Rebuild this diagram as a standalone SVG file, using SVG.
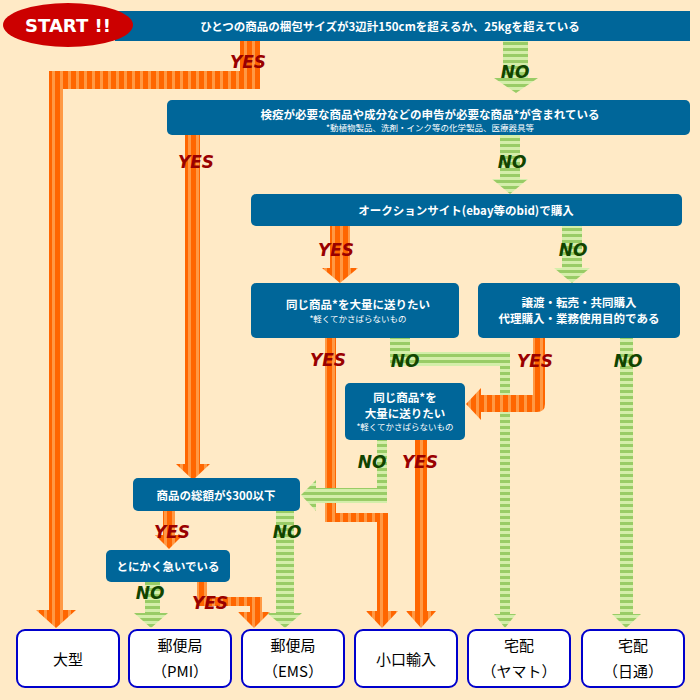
<svg xmlns="http://www.w3.org/2000/svg" width="700" height="700" viewBox="0 0 700 700">
<defs>
<pattern id="po" width="8" height="8" patternUnits="userSpaceOnUse"><rect width="8" height="8" fill="#ff6600"/><rect x="4" width="3" height="8" fill="#ff9944"/></pattern>
<pattern id="pg" width="6" height="6" patternUnits="userSpaceOnUse"><rect width="6" height="6" fill="#99cc66"/><rect y="3" width="6" height="3" fill="#d4eeaa"/></pattern>
<style>
.o{fill:url(#po)}
.g{fill:url(#pg)}
.b{fill:#006699}
.t{fill:#fff;font-family:"Noto Sans CJK JP",sans-serif;font-weight:bold;font-size:11.5px;text-anchor:middle}
.s{fill:#fff;font-family:"Noto Sans CJK JP",sans-serif;font-size:8.5px;text-anchor:middle}
.y{fill:#990000;font-family:"DejaVu Sans",sans-serif;font-weight:bold;font-style:italic;font-size:17px;text-anchor:middle}
.n{fill:#114400;font-family:"DejaVu Sans",sans-serif;font-weight:bold;font-style:italic;font-size:17px;text-anchor:middle}
.e{fill:#fff;stroke:#0000cc;stroke-width:2}
.et{fill:#000;font-family:"Noto Sans CJK JP",sans-serif;font-size:15px;text-anchor:middle}
</style>
</defs>
<rect width="700" height="700" fill="#ffeac6"/>
<g id="connectors">
<path class="o" d="M240 41h20v48H63v521h-14V71h191z"/>
<polygon class="o" points="36,610 76,610 56,628"/>
<text class="y" x="248" y="68">YES</text>
<rect class="g" x="503" y="41" width="25" height="38"/>
<polygon class="g" points="494,78 538,78 516,93"/>
<text class="n" x="515" y="78">NO</text>
<rect class="o" x="185" y="135" width="15" height="330"/>
<polygon class="o" points="176,464 210,464 193,480"/>
<text class="y" x="196" y="168">YES</text>
<rect class="g" x="500" y="135" width="20" height="45"/>
<polygon class="g" points="492,179 528,179 510,194"/>
<text class="n" x="512" y="168">NO</text>
<rect class="o" x="330" y="226" width="20" height="43"/>
<polygon class="o" points="322,268 358,268 340,283"/>
<text class="y" x="336" y="256">YES</text>
<rect class="g" x="562" y="226" width="20" height="43"/>
<polygon class="g" points="554,268 590,268 572,283"/>
<text class="n" x="573" y="256">NO</text>
<path class="o" d="M325 338h11v175h52v98h-11v-89h-52z"/>
<polygon class="o" points="366,611 398,611 382,628"/>
<text class="y" x="328" y="366">YES</text>
<path class="g" d="M390 338h20v14h100v262h-10V366h-110z"/>
<polygon class="g" points="494,614 516,614 505,628"/>
<text class="n" x="405" y="367">NO</text>
<path class="o" d="M533 338h12v66q0 8-8 8H480v-17h53z"/>
<polygon class="o" points="481,388 481,420 466,404"/>
<text class="y" x="535" y="367">YES</text>
<rect class="g" x="620" y="338" width="13" height="276"/>
<polygon class="g" points="612,614 641,614 626,628"/>
<text class="n" x="628" y="367">NO</text>
<path class="g" d="M377 440h10v63H315v-15h62z"/>
<polygon class="g" points="316,480 316,511 301,495"/>
<text class="n" x="372" y="468">NO</text>
<rect class="o" x="415" y="440" width="12" height="172"/>
<polygon class="o" points="406,611 436,611 421,628"/>
<text class="y" x="420" y="468">YES</text>
<rect class="o" x="163" y="511" width="12" height="25"/>
<polygon class="o" points="155,535 183,535 169,549"/>
<text class="y" x="172" y="538">YES</text>
<rect class="g" x="276" y="511" width="18" height="103"/>
<polygon class="g" points="267,613 302,613 285,628"/>
<text class="n" x="287" y="538">NO</text>
<rect class="g" x="145" y="582" width="15" height="32"/>
<polygon class="g" points="134,613 168,613 151,628"/>
<text class="n" x="150" y="599">NO</text>
<path class="o" d="M197 582h10v15h55v16h-12v-7h-53z"/>
<polygon class="o" points="238,612 270,612 254,628"/>
<text class="y" x="210" y="609">YES</text>
</g>
<g id="start"><rect class="b" x="115" y="11" width="575" height="30"/><ellipse cx="68" cy="25" rx="65" ry="22" fill="#cc0000"/><text x="68" y="32" fill="#fff" font-family="DejaVu Sans,sans-serif" font-weight="bold" font-size="18" text-anchor="middle">START !!</text><text class="t" x="390" y="31">ひとつの商品の梱包サイズが3辺計150cmを超えるか、25kgを超えている</text></g>
<g id="q2"><rect class="b" x="167" y="100" width="523" height="35" rx="5"/><text class="t" x="430" y="119">検疫が必要な商品や成分などの申告が必要な商品*が含まれている</text><text class="s" x="430" y="131">*動植物製品、洗剤・インク等の化学製品、医療器具等</text></g>
<g id="q3"><rect class="b" x="251" y="194" width="431" height="32" rx="5"/><text class="t" x="466" y="215">オークションサイト(ebay等のbid)で購入</text></g>
<g id="q4"><rect class="b" x="251" y="283" width="208" height="55" rx="5"/><text class="t" x="358" y="309">同じ商品*を大量に送りたい</text><text class="s" x="358" y="322">*軽くてかさばらないもの</text></g>
<g id="q5"><rect class="b" x="478" y="283" width="202" height="55" rx="5"/><text class="t" x="579" y="307">譲渡・転売・共同購入</text><text class="t" x="579" y="323">代理購入・業務使用目的である</text></g>
<g id="q6"><rect class="b" x="345" y="383" width="120" height="57" rx="5"/><text class="t" x="405" y="402">同じ商品*を</text><text class="t" x="405" y="418">大量に送りたい</text><text class="s" x="405" y="430">*軽くてかさばらないもの</text></g>
<g id="q7"><rect class="b" x="133" y="478" width="167" height="33" rx="5"/><text class="t" x="216" y="500">商品の総額が$300以下</text></g>
<g id="q8"><rect class="b" x="106" y="550" width="124" height="32" rx="5"/><text class="t" x="168" y="571">とにかく急いでいる</text></g>
<g id="e1"><rect class="e" x="17" y="630" width="102" height="57" rx="8"/><text class="et" x="68" y="665">大型</text></g>
<g id="e2"><rect class="e" x="129" y="630" width="102" height="57" rx="8"/><text class="et" x="180" y="651">郵便局</text><text class="et" x="180" y="677">（PMI）</text></g>
<g id="e3"><rect class="e" x="242" y="630" width="102" height="57" rx="8"/><text class="et" x="293" y="651">郵便局</text><text class="et" x="293" y="677">（EMS）</text></g>
<g id="e4"><rect class="e" x="355" y="630" width="102" height="57" rx="8"/><text class="et" x="406" y="665">小口輸入</text></g>
<g id="e5"><rect class="e" x="468" y="630" width="102" height="57" rx="8"/><text class="et" x="519" y="651">宅配</text><text class="et" x="519" y="677">（ヤマト）</text></g>
<g id="e6"><rect class="e" x="582" y="630" width="102" height="57" rx="8"/><text class="et" x="633" y="651">宅配</text><text class="et" x="633" y="677">（日通）</text></g>
</svg>
